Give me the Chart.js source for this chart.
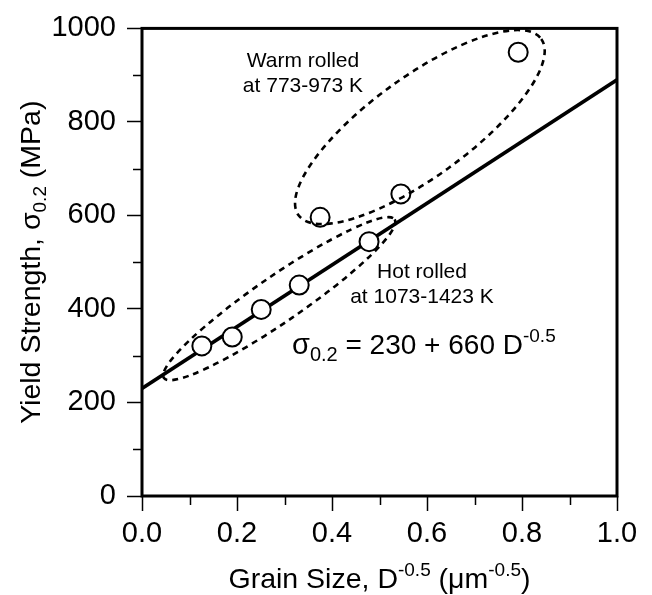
<!DOCTYPE html>
<html><head><meta charset="utf-8">
<script src="https://cdn.jsdelivr.net/npm/chart.js@4.4.0/dist/chart.umd.min.js"></script>
<style>html,body{margin:0;padding:0;background:#fff}</style>
</head><body>
<canvas id="c" width="652" height="595"></canvas>
<script>
// ---- data ----
const hotX  = [0.126, 0.190, 0.251, 0.331, 0.478];
const hotY  = [321, 340, 399, 451, 544];
const warmX = [0.375, 0.545, 0.792];
const warmY = [596, 646, 949];
const fitX  = [0.0, 1.0];
const fitY  = [230, 890];          // sigma = 230 + 660 D^-0.5
const xTickValues = [0.0, 0.2, 0.4, 0.6, 0.8, 1.0];
const yTickValues = [0, 200, 400, 600, 800, 1000];

const FONT = "'Liberation Sans', Arial, Helvetica, sans-serif";

function toPts(xs, ys){ return xs.map((x,i)=>({x:x, y:ys[i]})); }

function drawRich(ctx, segs, x, y, align){
  let w = 0;
  segs.forEach(s=>{ ctx.font = s.size + 'px ' + FONT; s.w = ctx.measureText(s.text).width; w += s.w; });
  let cx = align === 'center' ? x - w/2 : x;
  ctx.textBaseline = 'alphabetic';
  ctx.textAlign = 'left';
  segs.forEach(s=>{ ctx.font = s.size + 'px ' + FONT; ctx.fillText(s.text, cx, y + (s.dy||0)); cx += s.w; });
}

const decor = {
  id: 'decor',
  afterDatasetsDraw(chart){
    const ctx = chart.ctx, xs = chart.scales.x, ys = chart.scales.y, a = chart.chartArea;
    // ellipses (group outlines)
    const ells = [
      {cx:0.585, cy:789, rx:150, ry:50, rot:-36},
      {cx:0.289, cy:422, rx:140, ry:23, rot:-34.5}
    ];
    ctx.save();
    ctx.strokeStyle = '#000'; ctx.lineWidth = 2.6; ctx.setLineDash([6,5]);
    ells.forEach(e=>{
      ctx.beginPath();
      ctx.ellipse(xs.getPixelForValue(e.cx), ys.getPixelForValue(e.cy), e.rx, e.ry, e.rot*Math.PI/180, 0, Math.PI*2);
      ctx.stroke();
    });
    ctx.restore();
    // frame
    ctx.save();
    ctx.strokeStyle = '#000'; ctx.lineWidth = 3;
    ctx.strokeRect(a.left, a.top, a.right - a.left, a.bottom - a.top);
    // minor ticks
    ctx.lineWidth = 1.5;
    const xt = xs.ticks.map(t=>t.value), yt = ys.ticks.map(t=>t.value);
    ctx.beginPath();
    for (let i=0;i<xt.length-1;i++){
      const p = Math.round(xs.getPixelForValue((xt[i]+xt[i+1])/2)) + 0.5;
      ctx.moveTo(p, a.bottom); ctx.lineTo(p, a.bottom + 9);
    }
    for (let i=0;i<yt.length-1;i++){
      const p = Math.round(ys.getPixelForValue((yt[i]+yt[i+1])/2)) + 0.5;
      ctx.moveTo(a.left, p); ctx.lineTo(a.left - 9, p);
    }
    ctx.stroke();
    // annotations
    ctx.fillStyle = '#000';
    ctx.textAlign = 'center'; ctx.textBaseline = 'alphabetic';
    ctx.font = '21px ' + FONT;
    ctx.fillText('Warm rolled', 303, 67);
    ctx.fillText('at 773-973 K', 303, 92);
    ctx.fillText('Hot rolled', 422, 278);
    ctx.fillText('at 1073-1423 K', 422, 303);
    drawRich(ctx, [
      {text:'\u03c3', size:29},
      {text:'0.2', size:20, dy:7},
      {text:' = 230 + 660 D', size:28},
      {text:'-0.5', size:19, dy:-12}
    ], 292, 354, 'left');
    // axis titles
    drawRich(ctx, [
      {text:'Grain Size, D', size:28.5},
      {text:'-0.5', size:19, dy:-12},
      {text:' (\u03bcm', size:28.5},
      {text:'-0.5', size:19, dy:-12},
      {text:')', size:28.5}
    ], (a.left + a.right)/2, 588, 'center');
    ctx.save();
    ctx.translate(40, (a.top + a.bottom)/2);
    ctx.rotate(-Math.PI/2);
    drawRich(ctx, [
      {text:'Yield Strength, \u03c3', size:28.5},
      {text:'0.2', size:19, dy:6},
      {text:' (MPa)', size:28.5}
    ], 0, 0, 'center');
    ctx.restore();
    ctx.restore();
  }
};

const tickFont = {family: FONT, size: 29};

new Chart(document.getElementById('c'), {
  type: 'scatter',
  data: {
    datasets: [
      {label:'Hot rolled', data: toPts(hotX, hotY), order:1,
       pointRadius:9.5, pointHoverRadius:9.5, pointBackgroundColor:'#fff', pointBorderColor:'#000', pointBorderWidth:2},
      {label:'Warm rolled', data: toPts(warmX, warmY), order:1,
       pointRadius:9.5, pointHoverRadius:9.5, pointBackgroundColor:'#fff', pointBorderColor:'#000', pointBorderWidth:2},
      {label:'Fit', type:'line', data: toPts(fitX, fitY), order:2,
       borderColor:'#000', borderWidth:3.5, pointRadius:0, fill:false, tension:0}
    ]
  },
  options: {
    responsive:false, animation:false, devicePixelRatio:1,
    layout:{padding:{left:0, top:22, right:35, bottom:0}},
    plugins:{legend:{display:false}, tooltip:{enabled:false}},
    scales:{
      x:{type:'linear', min:0, max:1,
         afterFit(s){ s.height = 99; },
         afterBuildTicks(s){ s.ticks = xTickValues.map(v=>({value:v})); },
         ticks:{font:tickFont, color:'#000', padding:6, maxRotation:0, autoSkip:false,
                callback:(v)=>Number(v).toFixed(1)},
         grid:{drawOnChartArea:false, drawTicks:true, tickLength:15, tickWidth:1.5, tickColor:'#000'},
         border:{display:false},
         title:{display:false}},
      y:{type:'linear', min:0, max:1000,
         afterFit(s){ s.width = 142; },
         afterBuildTicks(s){ s.ticks = yTickValues.map(v=>({value:v})); },
         ticks:{font:tickFont, color:'#000', padding:11, autoSkip:false,
                callback:(v)=>String(v)},
         grid:{drawOnChartArea:false, drawTicks:true, tickLength:15, tickWidth:1.5, tickColor:'#000'},
         border:{display:false},
         title:{display:false}}
    }
  },
  plugins:[decor]
});
</script>
</body></html>
